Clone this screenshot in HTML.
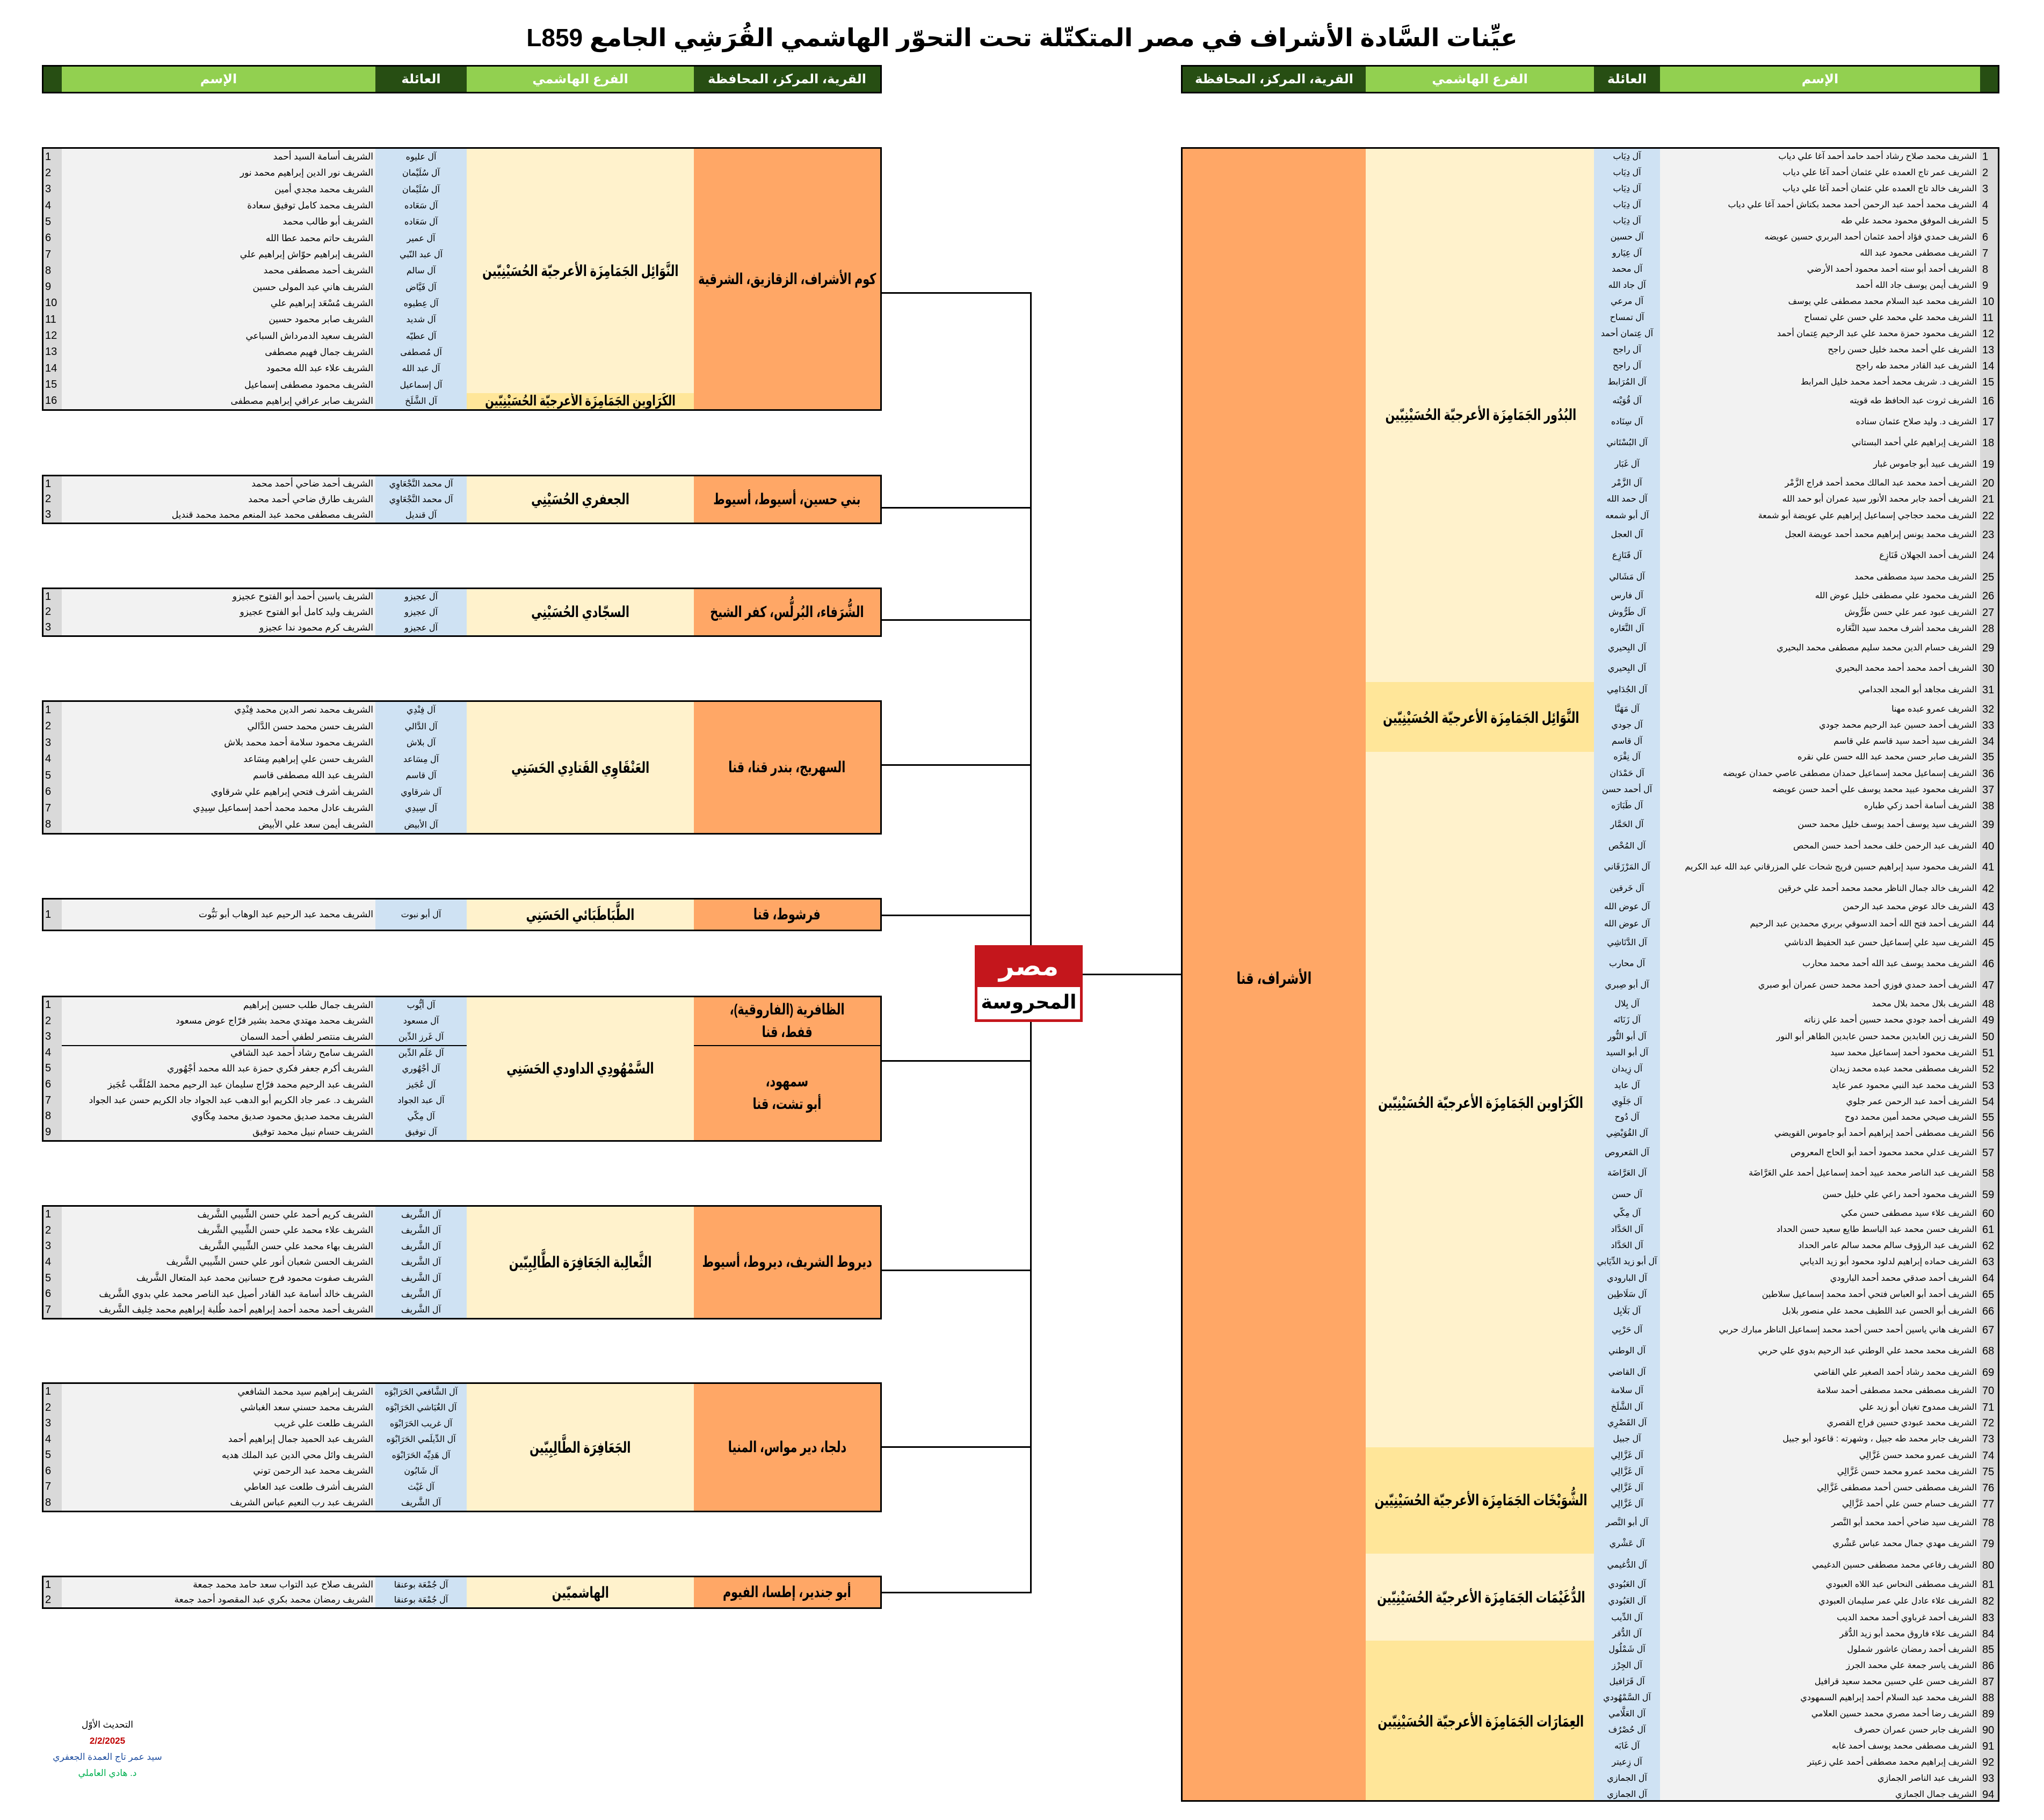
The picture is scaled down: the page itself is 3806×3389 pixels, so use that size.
<!DOCTYPE html>
<html><head><meta charset="utf-8">
<style>
*{margin:0;padding:0;box-sizing:border-box}
body{width:3806px;height:3389px;background:#fff;position:relative;overflow:hidden;font-family:"Liberation Sans","DejaVu Sans",sans-serif;color:#000}
.a{position:absolute}
.title{position:absolute;left:0;width:3806px;top:30px;text-align:center;direction:rtl;font-weight:bold;font-size:46px;line-height:80px}
.hdr{position:absolute;top:121px;height:53px;border:3px solid #000;display:grid;color:#fff;font-size:24px;font-weight:bold}
.hdr div{display:flex;align-items:center;justify-content:center;direction:rtl}
.dk{background:#274e13}.lt{background:#92d050}
.s{display:inline-block;transform:scaleX(.74);white-space:nowrap;text-align:center;flex:none}
.blk{position:absolute;left:78px;width:1564px;border:3px solid #000;display:grid;grid-template-columns:34px 584px 170px 423px 347px}
.blk .n{background:#d9d9d9;font-family:"Liberation Sans Narrow","Liberation Sans",sans-serif;font-size:20px;display:flex;align-items:center;padding-left:3px}
.blk .m{background:#f2f2f2;direction:rtl;display:flex;align-items:center;padding-right:4px;font-size:17px;white-space:nowrap;overflow:hidden}
.blk .f{background:#cfe2f3;direction:rtl;display:flex;align-items:center;justify-content:center;font-size:16px;white-space:nowrap}
.blk .b{background:#fff2cc;grid-column:4;grid-row:1/-1;display:flex;align-items:center;justify-content:center;font-weight:bold;font-size:28px;direction:rtl;text-align:center;overflow:hidden}
.blk .v{background:#ffa766;grid-column:5;grid-row:1/-1;display:flex;align-items:center;justify-content:center;font-weight:bold;font-size:28px;direction:rtl;text-align:center;line-height:1.5;overflow:hidden}
.t{border-top:2px solid #000}
.r{position:absolute;left:2968px;width:755px;height:32px;line-height:32px;font-size:16px}
.r .f{position:absolute;left:0;width:123px;text-align:center;direction:rtl;white-space:nowrap}
.r .m{position:absolute;left:123px;width:596px;text-align:right;direction:rtl;padding-right:6px;white-space:nowrap;overflow:hidden}
.r .n{position:absolute;left:719px;width:36px;padding-left:4px;font-family:"Liberation Sans Narrow","Liberation Sans",sans-serif;font-size:20px}
.bl{position:absolute;left:2545px;width:425px;display:flex;justify-content:center;direction:rtl;font-weight:bold;font-size:28px;line-height:40px}
.ln{position:absolute;background:#000}
.ft{position:absolute;left:80px;width:240px;text-align:center;direction:rtl;font-size:17px;line-height:30px}
</style></head><body>

<div class="title">عيِّنات السَّادة الأشراف في مصر المتكتّلة تحت التحوّر الهاشمي القُرَشِي الجامع L859</div>

<div class="hdr" style="left:78px;width:1564px;grid-template-columns:34px 584px 170px 423px 347px">
<div class="dk"></div><div class="lt">الإسم</div><div class="dk">العائلة</div><div class="lt">الفرع الهاشمي</div><div class="dk">القرية، المركز، المحافظة</div>
</div>
<div class="hdr" style="left:2199px;width:1524px;grid-template-columns:341px 425px 123px 596px 33px">
<div class="dk">القرية، المركز، المحافظة</div><div class="lt">الفرع الهاشمي</div><div class="dk">العائلة</div><div class="lt">الإسم</div><div class="dk"></div>
</div>

<!-- connectors -->
<div class="ln" style="left:1918px;top:544px;width:3px;height:2423px"></div>
<div class="ln" style="left:1640px;top:544px;width:280px;height:3px"></div>
<div class="ln" style="left:1640px;top:944px;width:280px;height:3px"></div>
<div class="ln" style="left:1640px;top:1153px;width:280px;height:3px"></div>
<div class="ln" style="left:1640px;top:1423px;width:280px;height:3px"></div>
<div class="ln" style="left:1640px;top:1703px;width:280px;height:3px"></div>
<div class="ln" style="left:1640px;top:1974px;width:280px;height:3px"></div>
<div class="ln" style="left:1640px;top:2364px;width:280px;height:3px"></div>
<div class="ln" style="left:1640px;top:2693px;width:280px;height:3px"></div>
<div class="ln" style="left:1640px;top:2964px;width:280px;height:3px"></div>
<div class="ln" style="left:2016px;top:1813px;width:185px;height:3px"></div>

<!-- logo -->
<div class="a" style="left:1815px;top:1760px;width:201px;height:143px;background:#c4161c">
<div class="a" style="left:0;top:4px;width:201px;text-align:center;color:#fff;font-weight:bold;font-size:50px;line-height:70px;font-family:'DejaVu Sans',sans-serif">مصر</div>
<div class="a" style="left:5px;top:78px;width:191px;height:60px;background:#fff;text-align:center;font-weight:bold;font-size:36px;line-height:58px;font-family:'DejaVu Sans',sans-serif;direction:rtl">المحروسة</div>
</div>

<!-- Block 1 -->
<div class="blk" style="top:274px;height:491px;grid-template-rows:repeat(16,1fr)">
<div class="b" style="grid-row:1/16"><span class="s">النَّوَائِل الجَمَامِزَة الأعرجيّة الحُسَيْنِيّين</span></div>
<div class="b" style="grid-row:16/17;background:#ffe699;font-size:26px"><span class="s">الكَرَاوين الجَمَامِزَة الأعرجيّة الحُسَيْنِيّين</span></div>
<div class="v"><span class="s">كوم الأشراف، الزقازيق، الشرقية</span></div>
<div class="n">1</div><div class="m">الشريف أسامة السيد أحمد</div><div class="f">آل عليوه</div>
<div class="n">2</div><div class="m">الشريف نور الدين إبراهيم محمد نور</div><div class="f">آل سُلَيْمان</div>
<div class="n">3</div><div class="m">الشريف محمد مجدي أمين</div><div class="f">آل سُلَيْمان</div>
<div class="n">4</div><div class="m">الشريف محمد كامل توفيق سعادة</div><div class="f">آل سَعَاده</div>
<div class="n">5</div><div class="m">الشريف أبو طالب محمد</div><div class="f">آل سَعَاده</div>
<div class="n">6</div><div class="m">الشريف حاتم محمد عطا الله</div><div class="f">آل عمير</div>
<div class="n">7</div><div class="m">الشريف إبراهيم حوّاش إبراهيم علي</div><div class="f">آل عبد النّبي</div>
<div class="n">8</div><div class="m">الشريف أحمد مصطفى محمد</div><div class="f">آل سالم</div>
<div class="n">9</div><div class="m">الشريف هاني عبد المولى حسين</div><div class="f">آل فَيَّاض</div>
<div class="n">10</div><div class="m">الشريف مُسْعَد إبراهيم علي</div><div class="f">آل عِطيوه</div>
<div class="n">11</div><div class="m">الشريف صابر محمود حسين</div><div class="f">آل شديد</div>
<div class="n">12</div><div class="m">الشريف سعيد الدمرداش السباعي</div><div class="f">آل عطيّه</div>
<div class="n">13</div><div class="m">الشريف جمال فهيم مصطفى</div><div class="f">آل مُصطفى</div>
<div class="n">14</div><div class="m">الشريف علاء عبد الله محمود</div><div class="f">آل عبد الله</div>
<div class="n">15</div><div class="m">الشريف محمود مصطفى إسماعيل</div><div class="f">آل إسماعيل</div>
<div class="n">16</div><div class="m">الشريف صابر عراقي إبراهيم مصطفى</div><div class="f">آل الشَّلَخ</div>
</div>

<!-- Block 2 -->
<div class="blk" style="top:884px;height:92px;grid-template-rows:repeat(3,1fr)">
<div class="b"><span class="s">الجعفري الحُسَيْنِي</span></div><div class="v"><span class="s">بني حسين، أسيوط، أسيوط</span></div>
<div class="n">1</div><div class="m">الشريف أحمد ضاحي أحمد محمد</div><div class="f">آل محمد النَّجْعَاوِي</div>
<div class="n">2</div><div class="m">الشريف طارق ضاحي أحمد محمد</div><div class="f">آل محمد النَّجْعَاوِي</div>
<div class="n">3</div><div class="m">الشريف مصطفى محمد عبد المنعم محمد محمد قنديل</div><div class="f">آل قنديل</div>
</div>

<!-- Block 3 -->
<div class="blk" style="top:1094px;height:92px;grid-template-rows:repeat(3,1fr)">
<div class="b"><span class="s">السجّادي الحُسَيْنِي</span></div><div class="v"><span class="s">الشُّرَفاء، البُرلُّس، كفر الشيخ</span></div>
<div class="n">1</div><div class="m">الشريف ياسين أحمد أبو الفتوح عجيزو</div><div class="f">آل عجيزو</div>
<div class="n">2</div><div class="m">الشريف وليد كامل أبو الفتوح عجيزو</div><div class="f">آل عجيزو</div>
<div class="n">3</div><div class="m">الشريف كرم محمود ندا عجيزو</div><div class="f">آل عجيزو</div>
</div>

<!-- Block 4 -->
<div class="blk" style="top:1304px;height:250px;grid-template-rows:repeat(8,1fr)">
<div class="b"><span class="s">العَنْقَاوِي القَتادِي الحَسَنِي</span></div><div class="v"><span class="s">السهريج، بندر قنا، قنا</span></div>
<div class="n">1</div><div class="m">الشريف محمد نصر الدين محمد فِنْدِي</div><div class="f">آل فِنْدِي</div>
<div class="n">2</div><div class="m">الشريف حسن محمد حسن الدَّالي</div><div class="f">آل الدَّالي</div>
<div class="n">3</div><div class="m">الشريف محمود سلامة أحمد محمد بلاش</div><div class="f">آل بلاش</div>
<div class="n">4</div><div class="m">الشريف حسن علي إبراهيم مِسَاعد</div><div class="f">آل مِسَاعد</div>
<div class="n">5</div><div class="m">الشريف عبد الله مصطفى قاسم</div><div class="f">آل قاسم</div>
<div class="n">6</div><div class="m">الشريف أشرف فتحي إبراهيم علي شرقاوي</div><div class="f">آل شرقاوي</div>
<div class="n">7</div><div class="m">الشريف عادل محمد محمد أحمد إسماعيل سِيدِي</div><div class="f">آل سِيدِي</div>
<div class="n">8</div><div class="m">الشريف أيمن سعد علي الأبيض</div><div class="f">آل الأبيض</div>
</div>

<!-- Block 5 -->
<div class="blk" style="top:1672px;height:62px;grid-template-rows:1fr">
<div class="b"><span class="s">الطَّبَاطَبَائي الحَسَنِي</span></div><div class="v"><span class="s">فرشوط، قنا</span></div>
<div class="n">1</div><div class="m">الشريف محمد عبد الرحيم عبد الوهاب أبو نَبُّوت</div><div class="f">آل أبو نبوت</div>
</div>

<!-- Block 6 -->
<div class="blk" style="top:1854px;height:272px;grid-template-rows:repeat(9,1fr)">
<div class="b"><span class="s">السَّمْهُودِي الداودي الحَسَنِي</span></div>
<div class="v" style="grid-row:1/4"><span class="s">الظافرية (الفاروقية)،<br>قفط، قنا</span></div>
<div class="v t" style="grid-row:4/10"><span class="s">سمهود،<br>أبو تشت، قنا</span></div>
<div class="n">1</div><div class="m">الشريف جمال طلب حسين إبراهيم</div><div class="f">آل أيُّوب</div>
<div class="n">2</div><div class="m">الشريف محمد مهتدي محمد بشير فرّاج عوض مسعود</div><div class="f">آل مسعود</div>
<div class="n">3</div><div class="m">الشريف منتصر لطفي أحمد السمان</div><div class="f">آل غَرز الدِّين</div>
<div class="n">4</div><div class="m t">الشريف سامح رشاد أحمد عبد الشافي</div><div class="f t">آل عَلَم الدِّين</div>
<div class="n">5</div><div class="m">الشريف أكرم جعفر فكري حمزة عبد الله محمد أجْهُوري</div><div class="f">آل أجْهُوري</div>
<div class="n">6</div><div class="m">الشريف عبد الرحيم محمد فرّاج سليمان عبد الرحيم محمد المُلَقَّب عُجَيز</div><div class="f">آل عُجَيز</div>
<div class="n">7</div><div class="m">الشريف د. عمر جاد الكريم أبو الدهب عبد الجواد جاد الكريم حسن عبد الجواد</div><div class="f">آل عبد الجواد</div>
<div class="n">8</div><div class="m">الشريف محمد صديق محمود صديق محمد مِكّاوي</div><div class="f">آل مِكّي</div>
<div class="n">9</div><div class="m">الشريف حسام نبيل محمد توفيق</div><div class="f">آل توفيق</div>
</div>

<!-- Block 7 -->
<div class="blk" style="top:2244px;height:213px;grid-template-rows:repeat(7,1fr)">
<div class="b"><span class="s">الثَّعالِبة الجَعَافِرَة الطَّالِبِيّين</span></div><div class="v"><span class="s">ديروط الشريف، ديروط، أسيوط</span></div>
<div class="n">1</div><div class="m">الشريف كريم أحمد علي حسن الشِّيبي الشَّريف</div><div class="f">آل الشَّريف</div>
<div class="n">2</div><div class="m">الشريف علاء محمد علي حسن الشِّيبي الشَّريف</div><div class="f">آل الشَّريف</div>
<div class="n">3</div><div class="m">الشريف بهاء محمد علي حسن الشِّيبي الشَّريف</div><div class="f">آل الشَّريف</div>
<div class="n">4</div><div class="m">الشريف الحسن شعبان أنور علي حسن الشِّيبي الشَّريف</div><div class="f">آل الشَّريف</div>
<div class="n">5</div><div class="m">الشريف صفوت محمود فرج حسانين محمد عبد المتعال الشَّريف</div><div class="f">آل الشَّريف</div>
<div class="n">6</div><div class="m">الشريف خالد أسامة عبد القادر أصيل عبد الناصر محمد علي بدوي الشَّريف</div><div class="f">آل الشَّريف</div>
<div class="n">7</div><div class="m">الشريف أحمد محمد أحمد إبراهيم أحمد طُلبة إبراهيم محمد خِليف الشَّريف</div><div class="f">آل الشَّريف</div>
</div>

<!-- Block 8 -->
<div class="blk" style="top:2574px;height:242px;grid-template-rows:repeat(8,1fr)">
<div class="b"><span class="s">الجَعَافِرَة الطَّالِبِيّين</span></div><div class="v"><span class="s">دلجا، دير مواس، المنيا</span></div>
<div class="n">1</div><div class="m">الشريف إبراهيم سيد محمد الشافعي</div><div class="f">آل الشَّافعي الحَرَابْوَه</div>
<div class="n">2</div><div class="m">الشريف محمد حسني سعد الغباشي</div><div class="f">آل الغُبَاشي الحَرَابْوَه</div>
<div class="n">3</div><div class="m">الشريف طلعت علي غريب</div><div class="f">آل غريب الحَرَابْوَه</div>
<div class="n">4</div><div class="m">الشريف عبد الحميد جمال إبراهيم أحمد</div><div class="f">آل الدِّيلَمي الحَرَابْوَه</div>
<div class="n">5</div><div class="m">الشريف وائل محي الدين عبد الملك هديه</div><div class="f">آل هَدِيِّه الحَرَابْوَه</div>
<div class="n">6</div><div class="m">الشريف محمد عبد الرحمن توني</div><div class="f">آل شَابُون</div>
<div class="n">7</div><div class="m">الشريف أشرف طلعت عبد العاطي</div><div class="f">آل غَيْث</div>
<div class="n">8</div><div class="m">الشريف عبد رب النعيم عباس الشريف</div><div class="f">آل الشَّريف</div>
</div>

<!-- Block 9 -->
<div class="blk" style="top:2934px;height:62px;grid-template-rows:repeat(2,1fr)">
<div class="b"><span class="s">الهاشميّين</span></div><div class="v"><span class="s">أبو جندير، إطسا، الفيوم</span></div>
<div class="n">1</div><div class="m">الشريف صلاح عبد التواب سعد حامد محمد جمعة</div><div class="f">آل جُمْعَة بوعنقا</div>
<div class="n">2</div><div class="m">الشريف رمضان محمد بكري عبد المقصود أحمد جمعة</div><div class="f">آل جُمْعَة بوعنقا</div>
</div>

<!-- footer -->
<div class="ft" style="top:3197px">التحديث الأوّل</div>
<div class="ft" style="top:3227px;color:#c00000;font-weight:bold">2/2/2025</div>
<div class="ft" style="top:3257px;color:#1f4e9f">سيد عمر تاج العمدة الجعفري</div>
<div class="ft" style="top:3287px;color:#00b050">د. هادي العاملي</div>

<!-- Right table -->
<div class="a" style="left:2199px;top:274px;width:1524px;height:3081px;border:3px solid #000">
<div class="a" style="left:0;top:0;width:341px;height:3075px;background:#ffa766"></div>
<div class="a" style="left:341px;top:0;width:425px;height:993px;background:#fff2cc"></div>
<div class="a" style="left:341px;top:993px;width:425px;height:130px;background:#ffe699"></div>
<div class="a" style="left:341px;top:1123px;width:425px;height:1295px;background:#fff2cc"></div>
<div class="a" style="left:341px;top:2418px;width:425px;height:198px;background:#ffe699"></div>
<div class="a" style="left:341px;top:2616px;width:425px;height:162px;background:#fff2cc"></div>
<div class="a" style="left:341px;top:2778px;width:425px;height:297px;background:#ffe699"></div>
<div class="a" style="left:766px;top:0;width:123px;height:3075px;background:#cfe2f3"></div>
<div class="a" style="left:889px;top:0;width:596px;height:3075px;background:#f2f2f2"></div>
<div class="a" style="left:1485px;top:0;width:33px;height:3075px;background:#d9d9d9"></div>
</div>
<div class="a" style="left:2202px;top:1800px;width:341px;display:flex;justify-content:center;direction:rtl;font-weight:bold;font-size:30px;line-height:46px"><span class="s">الأشراف، قنا</span></div>
<div class="bl" style="top:753px"><span class="s">البُدُور الجَمَامِزَة الأعرجيّة الحُسَيْنِيّين</span></div>
<div class="bl" style="top:1317px"><span class="s">النَّوَائِل الجَمَامِزَة الأعرجيّة الحُسَيْنِيّين</span></div>
<div class="bl" style="top:2034px"><span class="s">الكَرَاوين الجَمَامِزَة الأعرجيّة الحُسَيْنِيّين</span></div>
<div class="bl" style="top:2774px"><span class="s">الشُّوَيْخَات الجَمَامِزَة الأعرجيّة الحُسَيْنِيّين</span></div>
<div class="bl" style="top:2955px"><span class="s">الدُّغَيْمَات الجَمَامِزَة الأعرجيّة الحُسَيْنِيّين</span></div>
<div class="bl" style="top:3186px"><span class="s">العِمَارَات الجَمَامِزَة الأعرجيّة الحُسَيْنِيّين</span></div>

<div class="r" style="top:276px"><span class="f">آل دِيَاب</span><span class="m">الشريف محمد صلاح رشاد أحمد حامد أحمد آغا علي دياب</span><span class="n">1</span></div>
<div class="r" style="top:306px"><span class="f">آل دِيَاب</span><span class="m">الشريف عمر تاج العمده علي عثمان أحمد آغا علي دياب</span><span class="n">2</span></div>
<div class="r" style="top:336px"><span class="f">آل دِيَاب</span><span class="m">الشريف خالد تاج العمده علي عثمان أحمد آغا علي دياب</span><span class="n">3</span></div>
<div class="r" style="top:366px"><span class="f">آل دِيَاب</span><span class="m">الشريف محمد أحمد عبد الرحمن أحمد محمد بكتاش أحمد آغا علي دياب</span><span class="n">4</span></div>
<div class="r" style="top:396px"><span class="f">آل دِيَاب</span><span class="m">الشريف الموفق محمود محمد علي طه</span><span class="n">5</span></div>
<div class="r" style="top:426px"><span class="f">آل حسين</span><span class="m">الشريف حمدي فؤاد أحمد عثمان أحمد البربري حسين عويضه</span><span class="n">6</span></div>
<div class="r" style="top:456px"><span class="f">آل عِيَارو</span><span class="m">الشريف مصطفى محمود عبد الله</span><span class="n">7</span></div>
<div class="r" style="top:486px"><span class="f">آل محمد</span><span class="m">الشريف أحمد أبو سته أحمد محمود أحمد الأرضي</span><span class="n">8</span></div>
<div class="r" style="top:516px"><span class="f">آل جاد الله</span><span class="m">الشريف أيمن يوسف جاد الله أحمد</span><span class="n">9</span></div>
<div class="r" style="top:546px"><span class="f">آل مرعي</span><span class="m">الشريف محمد عبد السلام محمد مصطفى علي يوسف</span><span class="n">10</span></div>
<div class="r" style="top:576px"><span class="f">آل تمساح</span><span class="m">الشريف محمد علي محمد علي حسن علي تمساح</span><span class="n">11</span></div>
<div class="r" style="top:606px"><span class="f">آل عِتمان أحمد</span><span class="m">الشريف محمود حمزة محمد علي عبد الرحيم عِتمان أحمد</span><span class="n">12</span></div>
<div class="r" style="top:636px"><span class="f">آل راجح</span><span class="m">الشريف علي أحمد محمد خليل حسن راجح</span><span class="n">13</span></div>
<div class="r" style="top:666px"><span class="f">آل راجح</span><span class="m">الشريف عبد القادر محمد طه راجح</span><span class="n">14</span></div>
<div class="r" style="top:696px"><span class="f">آل المُرَابط</span><span class="m">الشريف د. شريف محمد أحمد محمد خليل المرابط</span><span class="n">15</span></div>
<div class="r" style="top:731px"><span class="f">آل قُوَيْته</span><span class="m">الشريف ثروت عبد الحافظ طه قويته</span><span class="n">16</span></div>
<div class="r" style="top:770px"><span class="f">آل سِنَاده</span><span class="m">الشريف د. وليد صلاح عثمان سناده</span><span class="n">17</span></div>
<div class="r" style="top:809px"><span class="f">آل البُسْتَاني</span><span class="m">الشريف إبراهيم علي أحمد البستاني</span><span class="n">18</span></div>
<div class="r" style="top:849px"><span class="f">آل غَبَار</span><span class="m">الشريف عبيد أبو جاموس غبار</span><span class="n">19</span></div>
<div class="r" style="top:884px"><span class="f">آل الزَّمْر</span><span class="m">الشريف أحمد محمد عبد المالك محمد أحمد فراج الزَّمْر</span><span class="n">20</span></div>
<div class="r" style="top:914px"><span class="f">آل حمد الله</span><span class="m">الشريف أحمد جابر محمد الأنور سيد عمران أبو حمد الله</span><span class="n">21</span></div>
<div class="r" style="top:945px"><span class="f">آل أبو شمعه</span><span class="m">الشريف محمد حجاجي إسماعيل إبراهيم علي عويضة أبو شمعة</span><span class="n">22</span></div>
<div class="r" style="top:980px"><span class="f">آل العجل</span><span class="m">الشريف محمد يونس إبراهيم محمد أحمد عويضة العجل</span><span class="n">23</span></div>
<div class="r" style="top:1019px"><span class="f">آل قَنَازِع</span><span class="m">الشريف أحمد الجهلان قَنَازِع</span><span class="n">24</span></div>
<div class="r" style="top:1059px"><span class="f">آل مَشَالي</span><span class="m">الشريف محمد سيد مصطفى محمد</span><span class="n">25</span></div>
<div class="r" style="top:1094px"><span class="f">آل فارس</span><span class="m">الشريف محمود علي مصطفى خليل عوض الله</span><span class="n">26</span></div>
<div class="r" style="top:1125px"><span class="f">آل طَرُّوش</span><span class="m">الشريف عبود عمر علي حسن طَرُّوش</span><span class="n">27</span></div>
<div class="r" style="top:1155px"><span class="f">آل النَّعَاره</span><span class="m">الشريف محمد أشرف محمد سيد النَّعَاره</span><span class="n">28</span></div>
<div class="r" style="top:1191px"><span class="f">آل البِحيري</span><span class="m">الشريف حسام الدين محمد سليم مصطفى محمد البحيري</span><span class="n">29</span></div>
<div class="r" style="top:1229px"><span class="f">آل البِحيري</span><span class="m">الشريف أحمد محمد أحمد محمد البحيري</span><span class="n">30</span></div>
<div class="r" style="top:1269px"><span class="f">آل الجُدَامِي</span><span class="m">الشريف مجاهد أبو المجد الجدامي</span><span class="n">31</span></div>
<div class="r" style="top:1305px"><span class="f">آل مَهَنَّا</span><span class="m">الشريف عمرو عبده مهنا</span><span class="n">32</span></div>
<div class="r" style="top:1335px"><span class="f">آل جودي</span><span class="m">الشريف أحمد حسين عبد الرحيم محمد جودي</span><span class="n">33</span></div>
<div class="r" style="top:1365px"><span class="f">آل قاسم</span><span class="m">الشريف سيد أحمد سيد قاسم علي قاسم</span><span class="n">34</span></div>
<div class="r" style="top:1394px"><span class="f">آل نِقْرَه</span><span class="m">الشريف صابر حسن محمد عبد الله حسن علي نقره</span><span class="n">35</span></div>
<div class="r" style="top:1425px"><span class="f">آل حَمْدَان</span><span class="m">الشريف إسماعيل محمد إسماعيل حمدان مصطفى عاصي حمدان عويضه</span><span class="n">36</span></div>
<div class="r" style="top:1455px"><span class="f">آل أحمد حسن</span><span class="m">الشريف محمود عبيد محمد يوسف علي أحمد حسن عويضه</span><span class="n">37</span></div>
<div class="r" style="top:1485px"><span class="f">آل طَبَارَه</span><span class="m">الشريف أسامة أحمد زكي طباره</span><span class="n">38</span></div>
<div class="r" style="top:1520px"><span class="f">آل الحَمَّار</span><span class="m">الشريف سيد يوسف أحمد يوسف خليل محمد حسن</span><span class="n">39</span></div>
<div class="r" style="top:1560px"><span class="f">آل المُحْص</span><span class="m">الشريف عبد الرحمن خلف محمد أحمد حسن المحص</span><span class="n">40</span></div>
<div class="r" style="top:1599px"><span class="f">آل المَرْزَقَاني</span><span class="m">الشريف محمود سيد إبراهيم حسين فريج شحات علي المزرقاني عبد الله عبد الكريم</span><span class="n">41</span></div>
<div class="r" style="top:1639px"><span class="f">آل خَرقين</span><span class="m">الشريف خالد جمال الناظر محمد محمد أحمد علي خرقين</span><span class="n">42</span></div>
<div class="r" style="top:1673px"><span class="f">آل عوض الله</span><span class="m">الشريف خالد عوض محمد عبد الرحمن</span><span class="n">43</span></div>
<div class="r" style="top:1705px"><span class="f">آل عوض الله</span><span class="m">الشريف أحمد فتح الله أحمد الدسوقي بربري محمدين عبد الرحيم</span><span class="n">44</span></div>
<div class="r" style="top:1740px"><span class="f">آل الدَّنَاشِي</span><span class="m">الشريف سيد علي إسماعيل حسن عبد الحفيظ الدناشي</span><span class="n">45</span></div>
<div class="r" style="top:1779px"><span class="f">آل محارب</span><span class="m">الشريف محمد يوسف عبد الله أحمد محمد محارب</span><span class="n">46</span></div>
<div class="r" style="top:1819px"><span class="f">آل أبو صِبري</span><span class="m">الشريف أحمد حمدي فوزي أحمد محمد حسن عمران أبو صبري</span><span class="n">47</span></div>
<div class="r" style="top:1854px"><span class="f">آل بِلال</span><span class="m">الشريف بلال محمد بلال محمد</span><span class="n">48</span></div>
<div class="r" style="top:1884px"><span class="f">آل زَنَاتَه</span><span class="m">الشريف أحمد جودي محمد حسين أحمد علي زناته</span><span class="n">49</span></div>
<div class="r" style="top:1915px"><span class="f">آل أبو النُّور</span><span class="m">الشريف زين العابدين محمد حسن عابدين الطاهر أبو النور</span><span class="n">50</span></div>
<div class="r" style="top:1945px"><span class="f">آل أبو السيد</span><span class="m">الشريف محمود أحمد إسماعيل محمد سيد</span><span class="n">51</span></div>
<div class="r" style="top:1975px"><span class="f">آل زِيدان</span><span class="m">الشريف مصطفى محمد عبده محمد زيدان</span><span class="n">52</span></div>
<div class="r" style="top:2006px"><span class="f">آل عايد</span><span class="m">الشريف محمد عبد النبي محمود عمر عايد</span><span class="n">53</span></div>
<div class="r" style="top:2036px"><span class="f">آل جَلَوِي</span><span class="m">الشريف أحمد عبد الرحمن عمر جلوي</span><span class="n">54</span></div>
<div class="r" style="top:2065px"><span class="f">آل دُوح</span><span class="m">الشريف صبحي محمد أمين محمد دوح</span><span class="n">55</span></div>
<div class="r" style="top:2095px"><span class="f">آل القُوَيْضِي</span><span class="m">الشريف مصطفى أحمد إبراهيم أحمد أبو جاموس القويضي</span><span class="n">56</span></div>
<div class="r" style="top:2131px"><span class="f">آل المَعروص</span><span class="m">الشريف عدلي محمد محمود أحمد أبو الحاج المعروص</span><span class="n">57</span></div>
<div class="r" style="top:2169px"><span class="f">آل العَرَّاضَة</span><span class="m">الشريف عبد الناصر محمد عبيد أحمد إسماعيل أحمد علي العَرَّاضَة</span><span class="n">58</span></div>
<div class="r" style="top:2209px"><span class="f">آل حسن</span><span class="m">الشريف محمود أحمد راعي علي خليل حسن</span><span class="n">59</span></div>
<div class="r" style="top:2244px"><span class="f">آل مِكّي</span><span class="m">الشريف علاء سيد مصطفى حسن مكي</span><span class="n">60</span></div>
<div class="r" style="top:2274px"><span class="f">آل الحَدَّاد</span><span class="m">الشريف حسن محمد عبد الباسط طايع سعيد حسن الحداد</span><span class="n">61</span></div>
<div class="r" style="top:2304px"><span class="f">آل الحَدَّاد</span><span class="m">الشريف عبد الرؤوف سالم محمد سالم عامر الحداد</span><span class="n">62</span></div>
<div class="r" style="top:2334px"><span class="f">آل أبو زيد الدِّيَابي</span><span class="m">الشريف حماده إبراهيم لدلود محمود أبو زيد الديابي</span><span class="n">63</span></div>
<div class="r" style="top:2365px"><span class="f">آل البارودي</span><span class="m">الشريف أحمد صدقي محمد أحمد البارودي</span><span class="n">64</span></div>
<div class="r" style="top:2395px"><span class="f">آل سَلَاطِين</span><span class="m">الشريف أحمد أبو العباس فتحي أحمد محمد إسماعيل سلاطين</span><span class="n">65</span></div>
<div class="r" style="top:2426px"><span class="f">آل بَلَابِل</span><span class="m">الشريف أبو الحسن عبد اللطيف محمد علي منصور بلابل</span><span class="n">66</span></div>
<div class="r" style="top:2461px"><span class="f">آل حَرْبِي</span><span class="m">الشريف هاني ياسين أحمد حسن أحمد محمد إسماعيل الناظر مبارك حربي</span><span class="n">67</span></div>
<div class="r" style="top:2500px"><span class="f">آل الوطني</span><span class="m">الشريف محمد محمد علي الوطني عبد الرحيم بدوي علي حربي</span><span class="n">68</span></div>
<div class="r" style="top:2540px"><span class="f">آل القاضي</span><span class="m">الشريف محمد رشاد أحمد الصغير علي القاضي</span><span class="n">69</span></div>
<div class="r" style="top:2574px"><span class="f">آل سلامة</span><span class="m">الشريف مصطفى محمد مصطفى أحمد سلامة</span><span class="n">70</span></div>
<div class="r" style="top:2605px"><span class="f">آل الشَّلَخ</span><span class="m">الشريف ممدوح تغيان أبو زيد علي</span><span class="n">71</span></div>
<div class="r" style="top:2634px"><span class="f">آل القَصْرِي</span><span class="m">الشريف محمد عبودي حسين فراج القصري</span><span class="n">72</span></div>
<div class="r" style="top:2664px"><span class="f">آل جبيل</span><span class="m">الشريف جابر محمد طه جبيل ، وشهرته : قاعود أبو جبيل</span><span class="n">73</span></div>
<div class="r" style="top:2695px"><span class="f">آل غَزَّالِي</span><span class="m">الشريف عمرو محمد حسن غَزَّالِي</span><span class="n">74</span></div>
<div class="r" style="top:2725px"><span class="f">آل غَزَّالِي</span><span class="m">الشريف محمد عمرو محمد حسن غَزَّالِي</span><span class="n">75</span></div>
<div class="r" style="top:2755px"><span class="f">آل غَزَّالِي</span><span class="m">الشريف مصطفى حسن أحمد مصطفى غَزَّالِي</span><span class="n">76</span></div>
<div class="r" style="top:2785px"><span class="f">آل غَزَّالِي</span><span class="m">الشريف حسام حسن علي أحمد غَزَّالِي</span><span class="n">77</span></div>
<div class="r" style="top:2820px"><span class="f">آل أبو النَّصر</span><span class="m">الشريف سيد ضاحي أحمد محمد أبو النَّصر</span><span class="n">78</span></div>
<div class="r" style="top:2859px"><span class="f">آل عَشْري</span><span class="m">الشريف مهدي جمال محمد عباس عَشْري</span><span class="n">79</span></div>
<div class="r" style="top:2899px"><span class="f">آل الدُّغيمي</span><span class="m">الشريف رفاعي محمد مصطفى حسين الدغيمي</span><span class="n">80</span></div>
<div class="r" style="top:2935px"><span class="f">آل العَبُودي</span><span class="m">الشريف مصطفى النحاس عبد اللاه العبودي</span><span class="n">81</span></div>
<div class="r" style="top:2966px"><span class="f">آل العَبُودي</span><span class="m">الشريف علاء عادل علي عمر سليمان العبودي</span><span class="n">82</span></div>
<div class="r" style="top:2997px"><span class="f">آل الدِّيب</span><span class="m">الشريف أحمد غرباوي أحمد محمد الديب</span><span class="n">83</span></div>
<div class="r" style="top:3027px"><span class="f">آل الدُّقر</span><span class="m">الشريف علاء فاروق محمد أبو زيد الدُّقر</span><span class="n">84</span></div>
<div class="r" style="top:3056px"><span class="f">آل شَمْلُول</span><span class="m">الشريف أحمد رمضان عاشور شملول</span><span class="n">85</span></div>
<div class="r" style="top:3086px"><span class="f">آل الجِرْز</span><span class="m">الشريف ياسر جمعة علي محمد الجرز</span><span class="n">86</span></div>
<div class="r" style="top:3116px"><span class="f">آل قَرَافيل</span><span class="m">الشريف حسن علي حسين محمد سعيد قرافيل</span><span class="n">87</span></div>
<div class="r" style="top:3146px"><span class="f">آل السَّمْهُودي</span><span class="m">الشريف محمد عبد السلام أحمد إبراهيم السمهودي</span><span class="n">88</span></div>
<div class="r" style="top:3176px"><span class="f">آل العَلَّامي</span><span class="m">الشريف رضا أحمد مصري محمد حسين العلامي</span><span class="n">89</span></div>
<div class="r" style="top:3206px"><span class="f">آل حُصْرُف</span><span class="m">الشريف جابر حسن عمران حصرف</span><span class="n">90</span></div>
<div class="r" style="top:3236px"><span class="f">آل غَابَه</span><span class="m">الشريف مصطفى محمد يوسف أحمد غابه</span><span class="n">91</span></div>
<div class="r" style="top:3266px"><span class="f">آل زِعيتر</span><span class="m">الشريف إبراهيم محمد مصطفى أحمد علي زعيتر</span><span class="n">92</span></div>
<div class="r" style="top:3296px"><span class="f">آل الجمازي</span><span class="m">الشريف عبد الناصر الجمازي</span><span class="n">93</span></div>
<div class="r" style="top:3326px"><span class="f">آل الجمازي</span><span class="m">الشريف جمال الجمازي</span><span class="n">94</span></div>

</body></html>
